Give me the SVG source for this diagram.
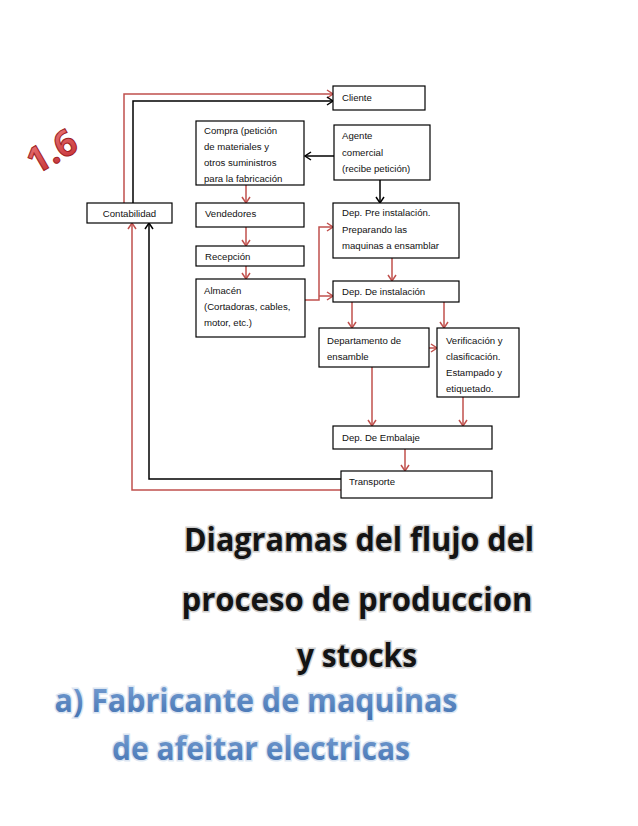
<svg xmlns="http://www.w3.org/2000/svg" width="638" height="826" viewBox="0 0 638 826">
<defs>
<marker id="ar" markerWidth="10" markerHeight="10" refX="8" refY="5" orient="auto" markerUnits="userSpaceOnUse">
<polyline points="2,1 8,5 2,9" fill="none" stroke="#C0504D" stroke-width="1.5"/>
</marker>
<marker id="ab" markerWidth="10" markerHeight="10" refX="8" refY="5" orient="auto" markerUnits="userSpaceOnUse">
<polyline points="2,1 8,5 2,9" fill="none" stroke="#000" stroke-width="1.5"/>
</marker>
<linearGradient id="bl" x1="0" y1="0" x2="0" y2="1">
<stop offset="0" stop-color="#7FA6D8"/>
<stop offset="1" stop-color="#3F6FAF"/>
</linearGradient>
<linearGradient id="rd" x1="0" y1="0" x2="0" y2="1">
<stop offset="0" stop-color="#F08080"/>
<stop offset="1" stop-color="#C0282D"/>
</linearGradient>
</defs>
<style>
.box{fill:#fff;stroke:#000;stroke-width:1.2}
.t{font-family:"Liberation Sans",Arial,sans-serif;font-size:9.6px;fill:#111}
.r{fill:none;stroke:#C0504D;stroke-width:1.5;marker-end:url(#ar)}
.b{fill:none;stroke:#000;stroke-width:1.5;marker-end:url(#ab)}
.h{font-family:"Open Sans","Liberation Sans",sans-serif;font-weight:bold;font-size:32px;fill:#141414;stroke:#d0d0d0;stroke-width:3;paint-order:stroke}
.hb{font-family:"Open Sans","Liberation Sans",sans-serif;font-weight:bold;font-size:33px;fill:url(#bl);stroke:#dce6f2;stroke-width:3;paint-order:stroke}
</style>
<rect width="638" height="826" fill="#fff"/>

<g id="connectors">
<polyline class="r" points="124,203 124,94 333,94"/>
<polyline class="b" points="133,203 133,101 333,101"/>
<line class="b" x1="334" y1="156" x2="305" y2="156"/>
<line class="b" x1="380" y1="180" x2="380" y2="203"/>
<line class="r" x1="246" y1="185" x2="246" y2="203"/>
<line class="r" x1="246" y1="227" x2="246" y2="246"/>
<line class="r" x1="246" y1="266" x2="246" y2="279"/>
<polyline class="r" points="305,300 319,300 319,227 333,227"/>
<polyline class="r" points="319,296 333,296"/>
<line class="r" x1="392" y1="258" x2="392" y2="281"/>
<line class="r" x1="352" y1="302" x2="352" y2="328"/>
<line class="r" x1="444" y1="302" x2="444" y2="328"/>
<line class="r" x1="429" y1="348" x2="437" y2="348"/>
<line class="r" x1="372" y1="367" x2="372" y2="426"/>
<line class="r" x1="463" y1="397" x2="463" y2="426"/>
<line class="r" x1="405" y1="449" x2="405" y2="471"/>
<polyline class="r" points="341,490 132,490 132,223"/>
<polyline class="b" points="341,479 149,479 149,223"/>
</g>

<g id="cliente"><rect class="box" x="333" y="86" width="92" height="24"/><text class="t" x="342" y="101">Cliente</text></g>
<g id="compra"><rect class="box" x="196" y="121" width="108" height="64"/>
<text class="t" x="204" y="134">Compra (petición</text>
<text class="t" x="204" y="150">de materiales y</text>
<text class="t" x="204" y="166">otros suministros</text>
<text class="t" x="204" y="182">para la fabricación</text></g>
<g id="agente"><rect class="box" x="334" y="125" width="96" height="55"/>
<text class="t" x="342" y="139">Agente</text>
<text class="t" x="342" y="156">comercial</text>
<text class="t" x="342" y="172">(recibe petición)</text></g>
<g id="contabilidad"><rect class="box" x="87" y="203" width="85" height="20"/><text class="t" x="129.5" y="217" text-anchor="middle">Contabilidad</text></g>
<g id="vendedores"><rect class="box" x="196" y="203" width="108" height="24"/><text class="t" x="205" y="217">Vendedores</text></g>
<g id="recepcion"><rect class="box" x="196" y="246" width="108" height="20"/><text class="t" x="205" y="260">Recepción</text></g>
<g id="almacen"><rect class="box" x="196" y="279" width="109" height="58"/>
<text class="t" x="204" y="294">Almacén</text>
<text class="t" x="204" y="310">(Cortadoras, cables,</text>
<text class="t" x="204" y="326">motor, etc.)</text></g>
<g id="preinstalacion"><rect class="box" x="333" y="203" width="126" height="55"/>
<text class="t" x="342" y="216">Dep. Pre instalación.</text>
<text class="t" x="342" y="233">Preparando las</text>
<text class="t" x="342" y="249">maquinas a ensamblar</text></g>
<g id="instalacion"><rect class="box" x="333" y="281" width="126" height="21"/><text class="t" x="342" y="295">Dep. De instalación</text></g>
<g id="ensamble"><rect class="box" x="319" y="328" width="110" height="39"/>
<text class="t" x="327" y="344">Departamento de</text>
<text class="t" x="327" y="360">ensamble</text></g>
<g id="verificacion"><rect class="box" x="437" y="328" width="82" height="69"/>
<text class="t" x="446" y="344">Verificación y</text>
<text class="t" x="446" y="360">clasificación.</text>
<text class="t" x="446" y="376">Estampado y</text>
<text class="t" x="446" y="392">etiquetado.</text></g>
<g id="embalaje"><rect class="box" x="333" y="426" width="159" height="23"/><text class="t" x="342" y="441">Dep. De Embalaje</text></g>
<g id="transporte"><rect class="box" x="341" y="471" width="151" height="27"/><text class="t" x="349" y="485">Transporte</text></g>

<text x="52" y="164" text-anchor="middle" transform="rotate(-30 52 152)" font-family="'Open Sans','Liberation Sans',sans-serif" font-weight="bold" font-size="36" fill="url(#rd)" stroke="#9E1C22" stroke-width="1">1.6</text>

<text class="h" x="359" y="551" text-anchor="middle" textLength="350" lengthAdjust="spacingAndGlyphs">Diagramas del flujo del</text>
<text class="h" x="357" y="611" text-anchor="middle" textLength="351" lengthAdjust="spacingAndGlyphs">proceso de produccion</text>
<text class="h" x="357" y="667" text-anchor="middle" textLength="120" lengthAdjust="spacingAndGlyphs">y stocks</text>
<text class="hb" x="256" y="712" text-anchor="middle" textLength="403" lengthAdjust="spacingAndGlyphs">a) Fabricante de maquinas</text>
<text class="hb" x="261" y="760" text-anchor="middle" textLength="298" lengthAdjust="spacingAndGlyphs">de afeitar electricas</text>
</svg>
